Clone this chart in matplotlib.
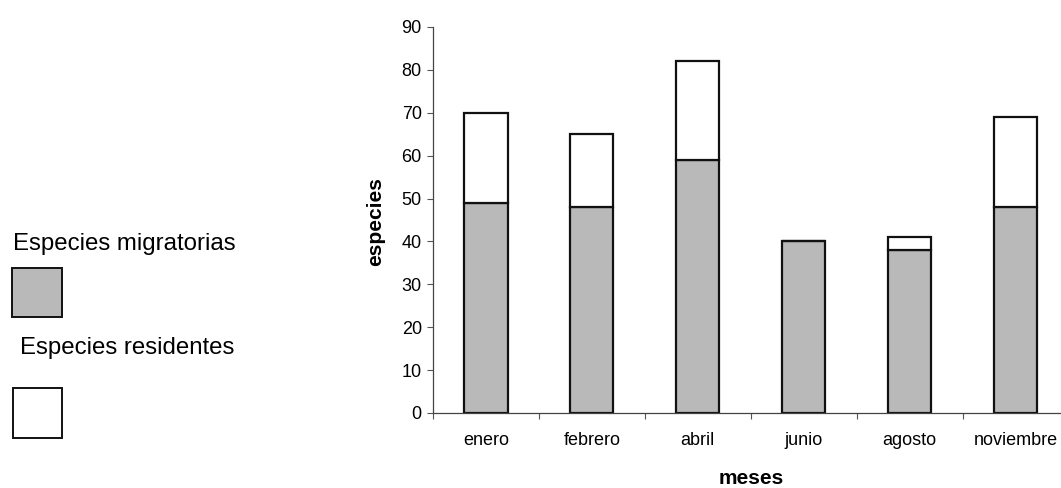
import numpy as np
import matplotlib.pyplot as plt
from matplotlib.patches import Rectangle

plt.rcParams['font.family'] = ['Liberation Sans', 'DejaVu Sans']

# Species counts per sampled month
meses = ['enero', 'febrero', 'abril', 'junio', 'agosto', 'noviembre']
migratorias = [49, 48, 59, 40, 38, 48]
residentes = [21, 17, 23, 0, 3, 21]

GRAY = '#b9b9b9'
EDGE = '#111111'

fig = plt.figure(figsize=(10.61, 4.88), dpi=100)
ax = fig.add_axes([0.408, 0.1537, 0.599, 0.791])

x = np.arange(len(meses))
width = 0.41
ax.bar(x, migratorias, width, color=GRAY, edgecolor=EDGE, linewidth=1.6, label='Especies migratorias')
ax.bar(x, residentes, width, bottom=migratorias, color='white', edgecolor=EDGE,
       linewidth=1.6, label='Especies residentes')

ax.set_xlim(-0.5, len(meses) - 0.5)
ax.set_ylim(0, 90)
ax.set_yticks(np.arange(0, 91, 10))

# category separators as major ticks, labels centred on minor ticks
ax.set_xticks(np.arange(-0.5, len(meses), 1.0))
ax.set_xticklabels([])
ax.set_xticks(x, minor=True)
ax.set_xticklabels(meses, minor=True)
ax.tick_params(axis='x', which='major', direction='out', length=4, width=0.8, color='#555555')
ax.tick_params(axis='x', which='minor', length=0, pad=14, labelsize=13)
ax.tick_params(axis='y', direction='out', length=4, width=0.8, color='#555555', labelsize=13, pad=4)

for side in ['top', 'right']:
    ax.spines[side].set_visible(False)
for side in ['left', 'bottom']:
    ax.spines[side].set_color('#444444')
    ax.spines[side].set_linewidth(0.9)

ax.set_ylabel('especies', fontsize=15, fontweight='bold', va='center')
ax.yaxis.set_label_coords(-0.09, 0.495)
ax.set_xlabel('meses', fontsize=15, fontweight='bold', va='center')
ax.xaxis.set_label_coords(0.501, -0.17)

# Legend block on the left side of the figure
W, H = 1061.0, 488.0
fig.text(13 / W, 1 - 244 / H, 'Especies migratorias', fontsize=17.3, va='center', ha='left')
fig.add_artist(Rectangle((12 / W, 1 - 317 / H), 50 / W, 49 / H, transform=fig.transFigure,
                         facecolor=GRAY, edgecolor=EDGE, linewidth=1.4))
fig.text(20 / W, 1 - 348 / H, 'Especies residentes', fontsize=17.3, va='center', ha='left')
fig.add_artist(Rectangle((13 / W, 1 - 438 / H), 49 / W, 50 / H, transform=fig.transFigure,
                         facecolor='white', edgecolor=EDGE, linewidth=1.4))

fig.savefig('out.png', dpi=100)
